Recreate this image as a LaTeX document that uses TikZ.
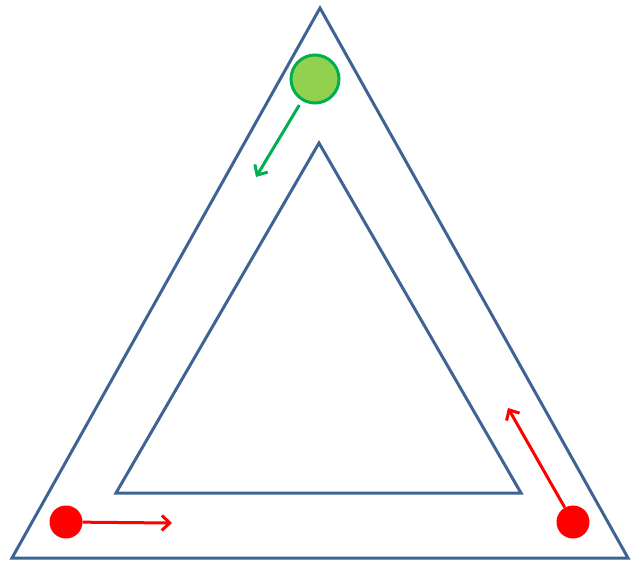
\documentclass[tikz,border=0pt]{standalone}
\usepackage{tikz}
\usetikzlibrary{arrows.meta}

\definecolor{trackblue}{HTML}{3F6493}
\definecolor{dotgreen}{HTML}{92D050}
\definecolor{rimgreen}{HTML}{00B050}
\definecolor{dotred}{HTML}{FF0000}

\begin{document}
\begin{tikzpicture}[
  x=1pt, y=-1pt,
  track/.style={draw=trackblue, line width=3pt, line join=miter},
  greenball/.style={circle, draw=rimgreen, fill=dotgreen, line width=3pt,
                    minimum size=48pt, inner sep=0pt},
  redball/.style={circle, fill=dotred, minimum size=33pt, inner sep=0pt},
  move/.style={-{Straight Barb[length=8pt, width=15pt, line width=3pt]}, line width=3pt},
]
  \useasboundingbox (0,0) rectangle (639,563);

  % -- Track: outer and inner triangles --
  \draw[track] (320,8) -- (628,558) -- (12,558) -- cycle;
  \draw[track] (319,143) -- (521,493) -- (116,493) -- cycle;

  % -- Balls --
  \node[greenball] (green) at (315,79) {};
  \node[redball] (redleft) at (66,522) {};
  \node[redball] (redright) at (573,522) {};

  % Arrow tips
  \coordinate (greentip) at (256,177);
  \coordinate (lefttip) at (172,523);
  \coordinate (righttip) at (508,408);

  % -- Directions --
  \draw[move, rimgreen, shorten <=5pt] (green) -- (greentip);
  \draw[move, dotred] (redleft) -- (lefttip);
  \draw[move, dotred] (redright) -- (righttip);

\end{tikzpicture}
\end{document}
